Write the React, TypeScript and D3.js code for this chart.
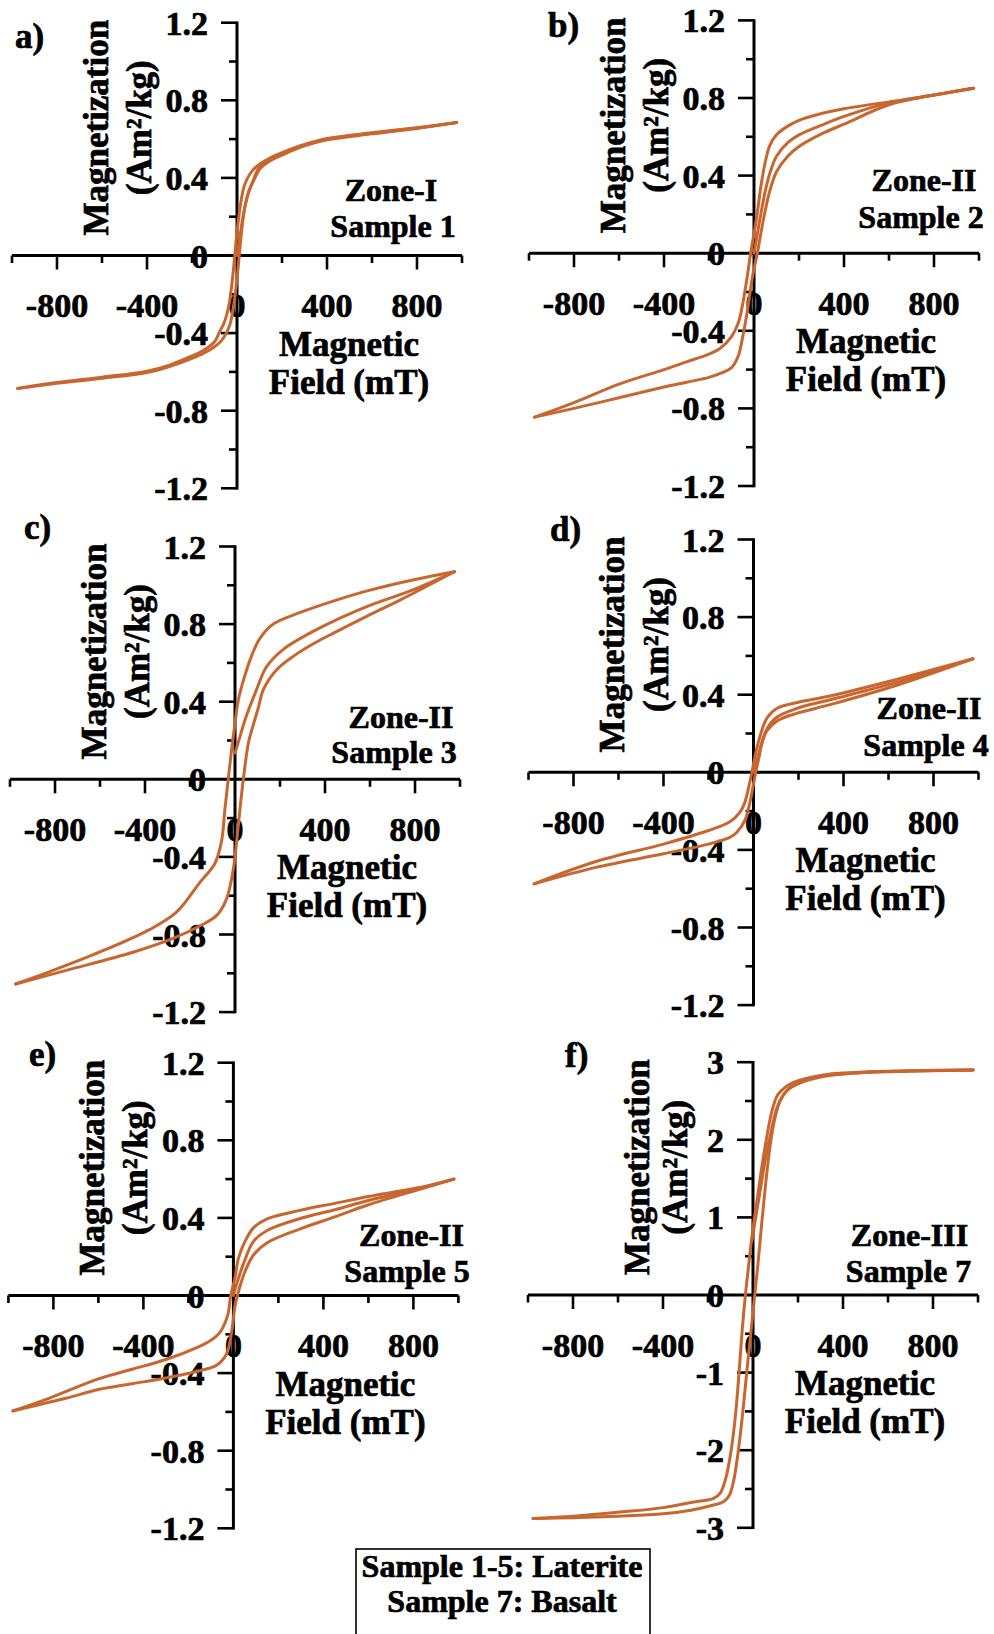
import React from 'react';
import * as d3 from 'd3';

type Pt = [number, number];

const FONT = '"Liberation Serif", "Times New Roman", serif';
const CURVE_COLOR = '#C8662F';

// ---- axis ticks ----
const xMajorTicks = [-800, -400, 0, 400, 800];
const xMajorLabels = ['-800', '-400', '0', '400', '800'];
const xMinorTicks = [-1000, -600, -200, 200, 600, 1000];

const yMajorTicks12 = [-1.2, -0.8, -0.4, 0, 0.4, 0.8, 1.2];
const yMajorLabels12 = ['-1.2', '-0.8', '-0.4', '0', '0.4', '0.8', '1.2'];
const yMinorTicks12 = [-1.0, -0.6, -0.2, 0.2, 0.6, 1.0];

const yMajorTicks3 = [-3, -2, -1, 0, 1, 2, 3];
const yMajorLabels3 = ['-3', '-2', '-1', '0', '1', '2', '3'];
const yMinorTicks3 = [-2.5, -1.5, -0.5, 0.5, 1.5, 2.5];

// ---- data: [field mT, magnetization Am2/kg] ----
const s1Initial: Pt[] = [[0,0],[10,0.07],[25,0.19],[45,0.3],[70,0.38],[100,0.455],[150,0.497],[200,0.524],[300,0.568],[400,0.599],[600,0.63],[800,0.657],[975,0.685]];
const s1Descending: Pt[] = [[975,0.685],[800,0.659],[600,0.633],[400,0.603],[300,0.572],[200,0.53],[150,0.505],[100,0.47],[70,0.44],[45,0.395],[30,0.35],[15,0.26],[0,0.12],[-10,0],[-20,-0.12],[-35,-0.25],[-55,-0.34],[-80,-0.4],[-100,-0.445],[-150,-0.49],[-200,-0.518],[-300,-0.565],[-400,-0.596],[-600,-0.627],[-800,-0.655],[-975,-0.685]];
const s1Ascending: Pt[] = [[-975,-0.685],[-800,-0.659],[-600,-0.633],[-400,-0.603],[-300,-0.572],[-200,-0.53],[-150,-0.505],[-100,-0.47],[-70,-0.44],[-45,-0.395],[-30,-0.35],[-15,-0.26],[0,-0.12],[10,0],[20,0.12],[35,0.25],[55,0.34],[80,0.4],[100,0.445],[150,0.49],[200,0.518],[300,0.565],[400,0.596],[600,0.627],[800,0.655],[975,0.685]];

const s2Initial: Pt[] = [[0,0],[15,0.1],[30,0.2],[50,0.32],[70,0.41],[100,0.5],[150,0.57],[200,0.61],[300,0.66],[400,0.705],[600,0.775],[800,0.815],[975,0.85]];
const s2Descending: Pt[] = [[975,0.85],[800,0.815],[600,0.78],[400,0.745],[300,0.72],[200,0.685],[150,0.655],[100,0.61],[70,0.555],[50,0.47],[30,0.34],[15,0.21],[0,0.1],[-15,0],[-30,-0.12],[-50,-0.26],[-70,-0.36],[-100,-0.43],[-150,-0.49],[-200,-0.52],[-300,-0.56],[-400,-0.6],[-600,-0.675],[-800,-0.77],[-975,-0.845]];
const s2Ascending: Pt[] = [[-975,-0.845],[-800,-0.8],[-600,-0.745],[-400,-0.69],[-300,-0.665],[-200,-0.64],[-150,-0.62],[-100,-0.59],[-70,-0.53],[-50,-0.43],[-30,-0.3],[-15,-0.18],[0,-0.08],[15,0],[30,0.1],[50,0.22],[70,0.32],[100,0.42],[150,0.5],[200,0.55],[300,0.615],[400,0.665],[600,0.765],[800,0.815],[975,0.85]];

const s3Initial: Pt[] = [[0,0.135],[22,0.22],[50,0.325],[95,0.46],[140,0.58],[215,0.67],[360,0.77],[585,0.89],[800,0.98],[975,1.07]];
const s3Descending: Pt[] = [[975,1.07],[800,1.03],[600,0.975],[440,0.92],[290,0.86],[170,0.8],[110,0.725],[75,0.64],[40,0.52],[15,0.41],[0,0.29],[-15,0.155],[-30,0],[-45,-0.155],[-60,-0.32],[-90,-0.435],[-155,-0.53],[-260,-0.685],[-380,-0.775],[-600,-0.89],[-820,-0.99],[-975,-1.055]];
const s3Ascending: Pt[] = [[-975,-1.055],[-750,-0.985],[-450,-0.89],[-275,-0.82],[-155,-0.755],[-80,-0.7],[-37,-0.615],[-7,-0.46],[7,-0.325],[22,-0.155],[37,0],[60,0.19],[80,0.275],[105,0.375],[125,0.46],[185,0.565],[260,0.635],[350,0.7],[440,0.755],[585,0.84],[735,0.925],[975,1.07]];

const s4Initial: Pt[] = [[0,0],[20,0.08],[40,0.165],[60,0.225],[105,0.285],[195,0.33],[345,0.375],[640,0.465],[975,0.585]];
const s4Descending: Pt[] = [[975,0.585],[640,0.48],[345,0.395],[195,0.36],[105,0.33],[60,0.28],[30,0.19],[7,0.085],[-7,0],[-22,-0.08],[-40,-0.16],[-60,-0.205],[-105,-0.255],[-200,-0.3],[-400,-0.37],[-700,-0.46],[-975,-0.575]];
const s4Ascending: Pt[] = [[-975,-0.575],[-700,-0.49],[-400,-0.42],[-200,-0.37],[-105,-0.335],[-75,-0.31],[-37,-0.245],[-15,-0.15],[0,-0.06],[10,0],[25,0.08],[40,0.16],[60,0.215],[105,0.265],[195,0.305],[345,0.35],[640,0.45],[975,0.585]];

const s5Initial: Pt[] = [[0,0],[20,0.08],[50,0.18],[90,0.28],[150,0.335],[300,0.398],[450,0.442],[600,0.49],[820,0.55],[980,0.6]];
const s5Descending: Pt[] = [[980,0.6],[820,0.555],[600,0.51],[450,0.475],[300,0.44],[150,0.395],[90,0.35],[52,0.28],[22,0.19],[7,0.09],[-12,0],[-25,-0.1],[-60,-0.19],[-105,-0.235],[-150,-0.262],[-300,-0.33],[-450,-0.38],[-600,-0.43],[-820,-0.53],[-980,-0.595]];
const s5Ascending: Pt[] = [[-980,-0.595],[-745,-0.53],[-600,-0.485],[-450,-0.455],[-300,-0.425],[-150,-0.388],[-75,-0.36],[-30,-0.3],[-7,-0.18],[7,-0.055],[18,0],[35,0.07],[52,0.125],[90,0.21],[150,0.272],[300,0.345],[450,0.405],[600,0.468],[820,0.545],[980,0.6]];

const s7Initial: Pt[] = [[-5,0.7],[15,1.05],[35,1.4],[55,1.75],[80,2.1],[105,2.4],[135,2.58],[175,2.7],[250,2.79],[400,2.85],[700,2.885],[978,2.9]];
const s7Descending: Pt[] = [[978,2.9],[700,2.89],[500,2.875],[350,2.85],[250,2.8],[180,2.74],[140,2.67],[110,2.58],[85,2.38],[62,2.05],[42,1.7],[22,1.3],[2,0.9],[-15,0.5],[-32,0.05],[-48,-0.45],[-62,-1.0],[-78,-1.55],[-97,-2.0],[-120,-2.35],[-145,-2.55],[-175,-2.62],[-270,-2.67],[-400,-2.74],[-600,-2.8],[-800,-2.85],[-978,-2.88]];
const s7Ascending: Pt[] = [[-978,-2.88],[-800,-2.87],[-600,-2.85],[-400,-2.82],[-270,-2.77],[-180,-2.71],[-130,-2.66],[-105,-2.58],[-85,-2.38],[-65,-2.0],[-45,-1.5],[-28,-1.0],[-10,-0.5],[6,-0.05],[22,0.4],[38,0.9],[55,1.4],[75,1.9],[95,2.25],[120,2.5],[150,2.63],[200,2.72],[300,2.81],[500,2.87],[700,2.885],[978,2.9]];

const panelLetters = ['a)', 'b)', 'c)', 'd)', 'e)', 'f)'];
const zoneNames = ['Zone-I', 'Zone-II', 'Zone-II', 'Zone-II', 'Zone-II', 'Zone-III'];
const sampleNames = ['Sample 1', 'Sample 2', 'Sample 3', 'Sample 4', 'Sample 5', 'Sample 7'];
const legendLines = ['Sample 1-5: Laterite', 'Sample 7: Basalt'];

// ---- layout (pixel positions) ----
type Layout = {
  ax: number; zero: number;
  letterX: number; letterY: number;
  zoneX: number; zoneY: number; sampleX: number; sampleY: number;
  t1: number; t2: number;
};
const layouts: Layout[] = [
  { ax: 237, zero: 255.5, letterX: 15, letterY: 48, zoneX: 391, zoneY: 201, sampleX: 393, sampleY: 236.5, t1: -129.5, t2: -86 },
  { ax: 754, zero: 253.2, letterX: 548, letterY: 37, zoneX: 924, zoneY: 190.5, sampleX: 921, sampleY: 228, t1: -129.5, t2: -86 },
  { ax: 235, zero: 779.3, letterX: 24, letterY: 539, zoneX: 401, zoneY: 728, sampleX: 394, sampleY: 762.5, t1: -129.5, t2: -86 },
  { ax: 753.5, zero: 772.3, letterX: 550, letterY: 541, zoneX: 929, zoneY: 719, sampleX: 926, sampleY: 755.5, t1: -129.5, t2: -86 },
  { ax: 233.4, zero: 1295.5, letterX: 29, letterY: 1066, zoneX: 411.5, zoneY: 1246, sampleX: 407, sampleY: 1281.5, t1: -129.5, t2: -86 },
  { ax: 753, zero: 1295, letterX: 565, letterY: 1067, zoneX: 909.5, zoneY: 1246, sampleX: 908.5, sampleY: 1281.5, t1: -104, t2: -66 },
];

type PanelDef = {
  branches: Pt[][];
  yMax: number;
  yTicks: number[];
  yLabels: string[];
  yMinor: number[];
};
const panelDefs: PanelDef[] = [
  { branches: [s1Initial, s1Descending, s1Ascending], yMax: 1.2, yTicks: yMajorTicks12, yLabels: yMajorLabels12, yMinor: yMinorTicks12 },
  { branches: [s2Initial, s2Descending, s2Ascending], yMax: 1.2, yTicks: yMajorTicks12, yLabels: yMajorLabels12, yMinor: yMinorTicks12 },
  { branches: [s3Initial, s3Descending, s3Ascending], yMax: 1.2, yTicks: yMajorTicks12, yLabels: yMajorLabels12, yMinor: yMinorTicks12 },
  { branches: [s4Initial, s4Descending, s4Ascending], yMax: 1.2, yTicks: yMajorTicks12, yLabels: yMajorLabels12, yMinor: yMinorTicks12 },
  { branches: [s5Initial, s5Descending, s5Ascending], yMax: 1.2, yTicks: yMajorTicks12, yLabels: yMajorLabels12, yMinor: yMinorTicks12 },
  { branches: [s7Initial, s7Descending, s7Ascending], yMax: 3, yTicks: yMajorTicks3, yLabels: yMajorLabels3, yMinor: yMinorTicks3 },
];

const HALF_H = 232.8;
const HALF_W = 225;
const TEXT_STROKE = 0.7;

function Panel({ idx }: { idx: number }) {
  const L = layouts[idx];
  const P = panelDefs[idx];
  const x = d3.scaleLinear().domain([-1000, 1000]).range([L.ax - HALF_W, L.ax + HALF_W]);
  const y = d3.scaleLinear().domain([-P.yMax, P.yMax]).range([L.zero + HALF_H, L.zero - HALF_H]);
  const line = d3.line<Pt>().x(d => x(d[0])).y(d => y(d[1])).curve(d3.curveCatmullRom.alpha(0.5));
  const x0 = x(0);
  const y0 = y(0);
  const titleCY = y(P.yMax) + 105;
  return (
    <g>
      {/* axes */}
      <line x1={x(-1000)} x2={x(1000)} y1={y0} y2={y0} stroke="#000" strokeWidth={3} />
      <line x1={x0} x2={x0} y1={y(P.yMax) - 1.2} y2={y(-P.yMax) + 1.2} stroke="#000" strokeWidth={3} />
      {xMajorTicks.filter(t => t !== 0).map(t => (
        <line key={'xM' + t} x1={x(t)} x2={x(t)} y1={y0} y2={y0 + 14} stroke="#000" strokeWidth={2.6} />
      ))}
      {xMinorTicks.map(t => (
        <line key={'xm' + t} x1={x(t)} x2={x(t)} y1={y0} y2={y0 + 7.5} stroke="#000" strokeWidth={2.6} />
      ))}
      {P.yTicks.filter(t => t !== 0).map(t => (
        <line key={'yM' + t} x1={x0 - 16} x2={x0} y1={y(t)} y2={y(t)} stroke="#000" strokeWidth={2.6} />
      ))}
      {P.yMinor.map(t => (
        <line key={'ym' + t} x1={x0 - 8} x2={x0} y1={y(t)} y2={y(t)} stroke="#000" strokeWidth={2.6} />
      ))}
      {/* tick labels */}
      <g fontFamily={FONT} fontWeight="bold" fontSize={34} fill="#000" stroke="#000" strokeWidth={TEXT_STROKE}>
        {P.yTicks.map((t, i) => (
          <text key={'yl' + t} x={x0 - 29} y={y(t) + 12} textAnchor="end">{P.yLabels[i]}</text>
        ))}
        {xMajorTicks.map((t, i) => (
          <text key={'xl' + t} x={x(t)} y={y0 + 61.5} textAnchor="middle">{xMajorLabels[i]}</text>
        ))}
      </g>
      {/* axis titles */}
      <g fontFamily={FONT} fontWeight="bold" fontSize={35} fill="#000" stroke="#000" strokeWidth={TEXT_STROKE}>
        <text transform={`translate(${x0 + L.t1},${titleCY}) rotate(-90)`} textAnchor="middle">Magnetization</text>
        <text transform={`translate(${x0 + L.t2},${titleCY}) rotate(-90)`} textAnchor="middle">(Am²/kg)</text>
        <text x={x0 + 112} y={y0 + 100} textAnchor="middle">Magnetic</text>
        <text x={x0 + 112} y={y0 + 138} textAnchor="middle">Field (mT)</text>
        <text x={L.letterX} y={L.letterY}>{panelLetters[idx]}</text>
      </g>
      <g fontFamily={FONT} fontWeight="bold" fontSize={32} fill="#000" stroke="#000" strokeWidth={TEXT_STROKE} textAnchor="middle">
        <text x={L.zoneX} y={L.zoneY}>{zoneNames[idx]}</text>
        <text x={L.sampleX} y={L.sampleY}>{sampleNames[idx]}</text>
      </g>
      {/* curves */}
      {P.branches.map((b, i) => (
        <path key={'c' + i} d={line(b) || ''} fill="none" stroke={CURVE_COLOR} strokeWidth={3} strokeLinejoin="round" strokeLinecap="round" />
      ))}
    </g>
  );
}

export default function App() {
  return (
    <svg width={994} height={1634} viewBox="0 0 994 1634"
      style={{ position: 'absolute', left: 0, top: 0, background: '#fff' }}>
      <rect x={0} y={0} width={994} height={1634} fill="#fff" />
      {panelDefs.map((_, i) => <Panel key={i} idx={i} />)}
      <rect x={356} y={1549} width={294} height={120} fill="none" stroke="#000" strokeWidth={1.6} />
      <g fontFamily={FONT} fontWeight="bold" fontSize={32} fill="#000" stroke="#000" strokeWidth={TEXT_STROKE} textAnchor="middle">
        <text x={502} y={1577}>{legendLines[0]}</text>
        <text x={502} y={1612}>{legendLines[1]}</text>
      </g>
    </svg>
  );
}
